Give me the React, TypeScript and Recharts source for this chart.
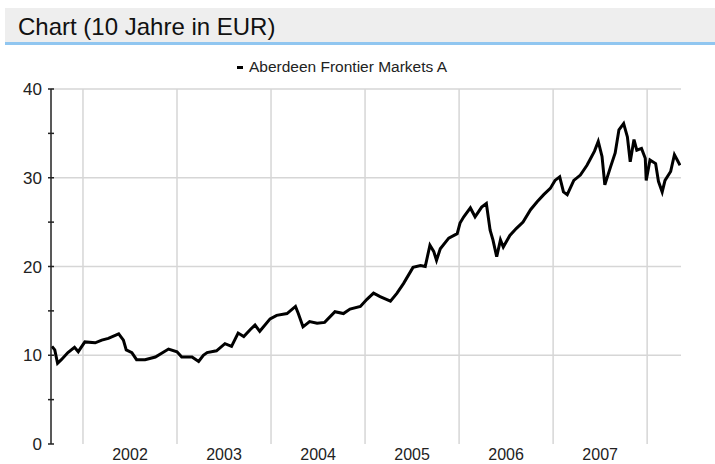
import React from 'react';
import { LineChart, Line, XAxis, YAxis, CartesianGrid } from 'recharts';

// Zeitpunkte als Dezimaljahre, Kurs in EUR
const dates = [
  2001.67, 2001.7, 2001.73, 2001.77, 2001.84, 2001.91, 2001.95, 2002.02, 2002.13, 2002.2,
  2002.27, 2002.38, 2002.43, 2002.46, 2002.52, 2002.57, 2002.66, 2002.77, 2002.91, 2003.0,
  2003.05, 2003.16, 2003.23, 2003.28, 2003.32, 2003.42, 2003.51, 2003.58, 2003.65, 2003.71,
  2003.78, 2003.83, 2003.88, 2003.99, 2004.06, 2004.17, 2004.26, 2004.29, 2004.34, 2004.41,
  2004.49, 2004.57, 2004.68, 2004.77, 2004.84, 2004.95, 2005.02, 2005.09, 2005.16, 2005.27,
  2005.34, 2005.41, 2005.51, 2005.59, 2005.64, 2005.69, 2005.73, 2005.76, 2005.8, 2005.89,
  2005.98, 2006.01, 2006.05, 2006.12, 2006.17, 2006.24, 2006.29, 2006.33, 2006.36, 2006.4,
  2006.44, 2006.47, 2006.54, 2006.61, 2006.68, 2006.76, 2006.83, 2006.9, 2006.97, 2007.02,
  2007.07, 2007.11, 2007.15, 2007.22, 2007.29, 2007.36, 2007.39, 2007.44, 2007.48, 2007.52,
  2007.55, 2007.61, 2007.66, 2007.7, 2007.75, 2007.79, 2007.82, 2007.86, 2007.89, 2007.94,
  2007.98, 2007.99, 2008.03, 2008.09, 2008.12, 2008.16, 2008.19, 2008.25, 2008.29, 2008.32,
  2008.35,
];

const prices = [
  11.0, 10.6, 9.1, 9.5, 10.3, 10.9, 10.4, 11.5, 11.4, 11.7,
  11.9, 12.4, 11.7, 10.6, 10.3, 9.5, 9.5, 9.8, 10.7, 10.4,
  9.8, 9.8, 9.3, 10.0, 10.3, 10.5, 11.3, 11.0, 12.5, 12.1,
  12.9, 13.4, 12.7, 14.1, 14.5, 14.7, 15.5, 14.7, 13.2, 13.8,
  13.6, 13.7, 14.9, 14.7, 15.2, 15.5, 16.3, 17.0, 16.6, 16.1,
  17.0, 18.1, 19.9, 20.1, 20.0, 22.4, 21.7, 20.7, 22.0, 23.2,
  23.7, 24.9, 25.6, 26.6, 25.6, 26.7, 27.1, 24.1, 23.0, 21.1,
  23.0, 22.2, 23.5, 24.3, 25.0, 26.4, 27.3, 28.1, 28.8, 29.7,
  30.1, 28.4, 28.1, 29.7, 30.3, 31.4, 32.0, 33.0, 34.1, 32.4,
  29.2, 31.2, 32.8, 35.4, 36.1, 34.6, 31.8, 34.3, 33.1, 33.3,
  32.2, 29.7, 32.0, 31.6, 29.6, 28.4, 29.7, 30.7, 32.6, 32.0,
  31.4,
];

const yearTicks = [2002, 2003, 2004, 2005, 2006, 2007, 2008];
const yearLabelTicks = [2002.5, 2003.5, 2004.5, 2005.5, 2006.5, 2007.5];
const valueTicks = [0, 5, 10, 15, 20, 25, 30, 35, 40];
const gridValues = [10, 20, 30, 40];
const xDomain = [2001.66, 2008.36];
const seriesName = 'Aberdeen Frontier Markets A';

const data = dates.map((t, i) => ({ t, price: prices[i] }));

const font = '"Liberation Sans", Arial, sans-serif';
const axisColor = '#222';

const YTick = (props: any) => {
  const { x, y, payload } = props;
  const v = payload.value;
  const ax = x + 8;
  return (
    <g>
      <line x1={ax - 3} x2={ax + 3} y1={y} y2={y} stroke={axisColor} strokeWidth={1.5} />
      {v % 10 === 0 && (
        <text x={x - 1} y={y} dy={6} textAnchor="end" fill="#222" fontSize={17} fontFamily={font}>
          {v}
        </text>
      )}
    </g>
  );
};

const XTickMark = (props: any) => {
  const { x, y } = props;
  return <line x1={x} x2={x} y1={y - 2} y2={y + 4} stroke={axisColor} strokeWidth={1.5} />;
};

const XLabel = (props: any) => {
  const { x, y, payload } = props;
  return (
    <text x={x} y={y} dy={12} textAnchor="middle" fill="#222" fontSize={16} fontFamily={font}>
      {Math.floor(payload.value)}
    </text>
  );
};

export default function App() {
  return (
    <div style={{ position: 'absolute', left: 0, top: 0, width: 715, height: 464, background: '#fff' }}>
      <div
        style={{
          position: 'absolute',
          left: 5,
          top: 8,
          width: 710,
          height: 37,
          background: '#eeeeee',
          borderBottom: '3px solid #90c6f0',
          fontFamily: font,
          fontSize: 24,
          lineHeight: '37px',
          color: '#111',
          paddingLeft: 13,
          boxSizing: 'border-box',
        }}
      >
        Chart (10 Jahre in EUR)
      </div>
      <div
        style={{
          position: 'absolute',
          left: 0,
          top: 58,
          width: 684,
          textAlign: 'center',
          fontFamily: font,
          fontSize: 15.5,
          color: '#222',
        }}
      >
        <span style={{ display: 'inline-block', width: 6, height: 3, background: '#000', verticalAlign: 'middle', marginRight: 6 }} />
        {seriesName}
      </div>
      <div style={{ position: 'absolute', left: 0, top: 0 }}>
        <LineChart width={715} height={464} data={data} margin={{ top: 89, right: 34, bottom: 0, left: 0 }}>
          <CartesianGrid
            stroke="#d6d6d6"
            strokeWidth={1.5}
            horizontalValues={gridValues}
            verticalValues={yearTicks}
          />
          <XAxis
            dataKey="t"
            type="number"
            domain={xDomain}
            allowDataOverflow
            ticks={yearTicks}
            tick={<XTickMark />}
            tickLine={false}
            tickSize={0}
            tickMargin={0}
            height={0}
            axisLine={{ stroke: axisColor, strokeWidth: 1.5 }}
            interval={0}
          />
          <XAxis
            xAxisId="lbl"
            dataKey="t"
            type="number"
            domain={xDomain}
            allowDataOverflow
            ticks={yearLabelTicks}
            tick={<XLabel />}
            tickLine={false}
            tickSize={0}
            tickMargin={4}
            height={20}
            axisLine={false}
            interval={0}
          />
          <YAxis
            type="number"
            domain={[0, 40]}
            allowDataOverflow
            ticks={valueTicks}
            tick={<YTick />}
            tickLine={false}
            tickSize={0}
            tickMargin={8}
            width={51}
            interval={0}
            axisLine={{ stroke: axisColor, strokeWidth: 1.5 }}
          />
          <YAxis
            yAxisId="r"
            orientation="right"
            type="number"
            domain={[0, 40]}
            allowDataOverflow
            tick={false}
            tickLine={false}
            width={0}
            axisLine={{ stroke: axisColor, strokeWidth: 1.5 }}
          />
          <Line
            type="linear"
            dataKey="price"
            stroke="#000"
            strokeWidth={3}
            dot={false}
            isAnimationActive={false}
          />
        </LineChart>
      </div>
    </div>
  );
}
